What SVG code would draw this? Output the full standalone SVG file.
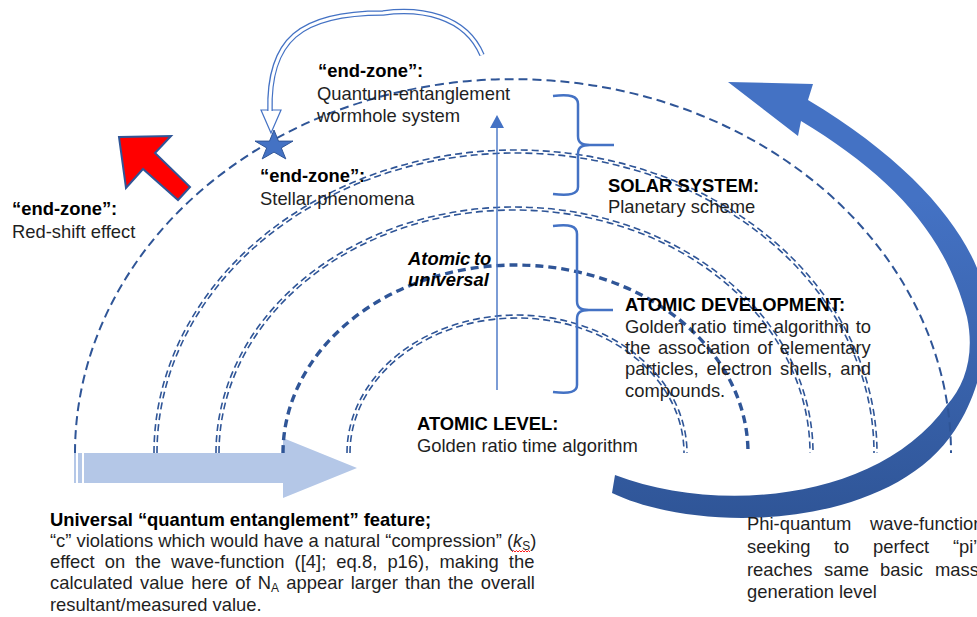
<svg xmlns="http://www.w3.org/2000/svg" width="977" height="617" viewBox="0 0 977 617">
<defs>
<linearGradient id="bigGrad" gradientUnits="userSpaceOnUse" x1="0" y1="200" x2="0" y2="520">
<stop offset="0" stop-color="#4472C4"/>
<stop offset="1" stop-color="#2F5597"/>
</linearGradient>
<style>
text{font-family:"Liberation Sans",Arial,sans-serif;font-size:18.4px;fill:#1f1f1f}
.b{font-weight:bold;fill:#000}
.bi{font-weight:bold;font-style:italic;fill:#000}
.arc{fill:none;stroke:#2F5597;stroke-width:2;stroke-dasharray:9 5}
.arcd{fill:none;stroke:#2F5597;stroke-width:1.6;stroke-dasharray:7 4}
.arct{fill:none;stroke:#2F5597;stroke-width:3.4;stroke-dasharray:8 5}
.brace{fill:none;stroke:#4472C4;stroke-width:2.5}
</style>
</defs>
<rect width="977" height="617" fill="#fff"/>

<g id="connectors">
<path id="big-arrow" fill="url(#bigGrad)" d="M 612,493 C 700,535 890,530 955,430 C 985,385 995,320 977,268 C 955,215 900,155 808,100 L 813,84 L 728,82 L 798,136 L 801,121 C 890,175 945,232 967,317 C 975,355 965,385 947,405 C 880,500 720,515 615,475 Z"/>
<g id="light-arrow" fill="#B4C7E7">
<path d="M 84,453 L 283,453 L 283,438 L 357,468 L 283,498 L 283,483 L 84,483 Z"/>
<rect x="74" y="453" width="2" height="30"/>
<rect x="78" y="453" width="4" height="30"/>
</g>
<g id="arcs">
<path class="arc" d="M 75,453 A 438,374 0 0 1 951,453"/>
<path class="arcd" d="M 154,453 A 361.5,303 0 0 1 877,453"/>
<path class="arcd" d="M 157,453 A 358.5,300 0 0 1 874,453"/>
<path class="arcd" d="M 216,453 A 298.5,246 0 0 1 813,453"/>
<path class="arcd" d="M 219,453 A 295.5,243 0 0 1 810,453"/>
<path class="arct" d="M 283,453 A 232.5,188 0 0 1 748,453"/>
<path class="arcd" d="M 347,453 A 170,138 0 0 1 687,453"/>
<path class="arcd" d="M 350,453 A 167,135 0 0 1 684,453"/>
</g>
<g id="vertical-arrow">
<line x1="497" y1="390" x2="497" y2="126" stroke="#4472C4" stroke-width="1.4"/>
<polygon points="490,128 497,115 504,128" fill="#4472C4"/>
</g>
<g id="braces">
<path class="brace" d="M 553,96 C 570,94 578,96 578,104 L 578,136 C 578,143 582,145 590,145 L 614,145 M 590,145 C 582,145 578,147 578,154 L 578,187 C 578,194 570,196 553,194"/>
<path class="brace" d="M 553,226 C 570,224 577,226 577,234 L 577,301 C 577,308 581,310 589,310 L 613,310 M 589,310 C 581,310 577,312 577,319 L 577,385 C 577,392 570,394 553,392"/>
</g>
<g id="wormhole-arrow">
<polygon points="261,110 281,110 271,133" fill="#fff" stroke="#4472C4" stroke-width="1.2"/>
<path d="M 482,55 C 465,15 420,8 383,13 C 300,13 268,40 270,111" fill="none" stroke="#4472C4" stroke-width="5.5"/>
<path d="M 482,55 C 465,15 420,8 383,13 C 300,13 268,40 270,112" fill="none" stroke="#fff" stroke-width="3"/>
</g>
<polygon id="red-arrow" points="119,137 171,136 155,153 190,187 178,200 143,169 126,188" fill="#FF0000" stroke="#2F5597" stroke-width="2" stroke-linejoin="miter"/>
</g>

<g id="star">
<polygon points="274,130 278.5,141.1 293,141.1 281.3,147.9 285.8,158.9 274,152.1 262.2,158.9 266.7,147.9 255,141.1 269.5,141.1" fill="#4472C4" stroke="#2F5597" stroke-width="1"/>
</g>

<g id="node-wormhole">
<text class="b" x="318" y="77">“end-zone”:</text>
<text x="317" y="100">Quantum-entanglement</text>
<text x="317" y="122">wormhole system</text>
</g>
<g id="node-stellar">
<text class="b" x="260" y="182">“end-zone”:</text>
<text x="260" y="205">Stellar phenomena</text>
</g>
<g id="node-redshift">
<text class="b" x="12" y="215">“end-zone”:</text>
<text x="12" y="238">Red-shift effect</text>
</g>
<g id="node-atomic-universal">
<text class="bi" x="408" y="265">Atomic<tspan x="474">to</tspan></text>
<text class="bi" x="408" y="286">universal</text>
</g>
<g id="node-solar">
<text class="b" x="608" y="192">SOLAR SYSTEM:</text>
<text x="608" y="213">Planetary scheme</text>
</g>
<g id="node-atomic-development">
<text class="b" x="625" y="311">ATOMIC DEVELOPMENT:</text>
<text x="625" y="333" word-spacing="1.2">Golden ratio time algorithm to</text>
<text x="625" y="354" word-spacing="2.2">the association of elementary</text>
<text x="625" y="375" word-spacing="2.9">particles, electron shells, and</text>
<text x="625" y="397">compounds.</text>
</g>
<g id="node-atomic-level">
<text class="b" x="417" y="430">ATOMIC LEVEL:</text>
<text x="417" y="452">Golden ratio time algorithm</text>
</g>
<g id="node-universal">
<text class="b" x="50" y="526">Universal “quantum entanglement” feature;</text>
<text x="50" y="547">“c” violations which would have a natural “compression” (<tspan font-style="italic">k</tspan><tspan font-size="12" dy="3">S</tspan><tspan dy="-3">)</tspan></text>
<path d="M 512,552 l 1.5,-1.5 l 1.5,1.5 l 1.5,-1.5 l 1.5,1.5 l 1.5,-1.5 l 1.5,1.5 l 1.5,-1.5 l 1.5,1.5 l 1.5,-1.5 l 1.5,1.5 l 1.5,-1.5 l 1.5,1.5" fill="none" stroke="#FF0000" stroke-width="0.9"/>
<text x="50" y="568" word-spacing="5">effect on the wave-function ([4]; eq.8, p16), making the</text>
<text x="50" y="589" word-spacing="2.1">calculated value here of N<tspan font-size="12" dy="3">A</tspan><tspan dy="-3"> appear larger than the overall</tspan></text>
<text x="50" y="611">resultant/measured value.</text>
</g>
<g id="node-phi">
<text y="530"><tspan x="747">Phi-quantum</tspan><tspan x="870">wave-function</tspan></text>
<text y="553"><tspan x="747">seeking</tspan><tspan x="834">to</tspan><tspan x="873">perfect</tspan><tspan x="953">“pi”</tspan></text>
<text y="576"><tspan x="747">reaches</tspan><tspan x="824">same</tspan><tspan x="880">basic</tspan><tspan x="935">mass</tspan></text>
<text x="747" y="598">generation level</text>
</g>
</svg>
